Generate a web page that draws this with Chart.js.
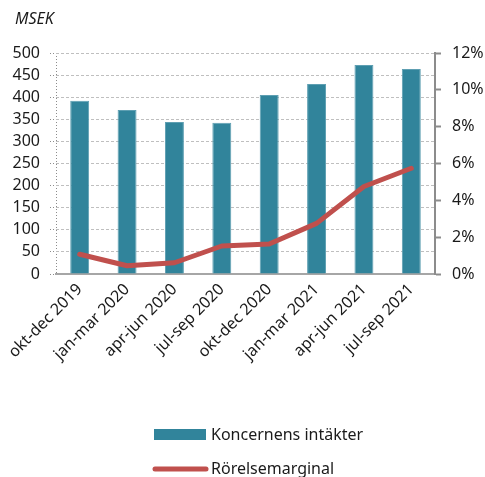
<!DOCTYPE html>
<html>
<head>
<meta charset="utf-8">
<script src="https://cdn.jsdelivr.net/npm/chart.js@4/dist/chart.umd.min.js"></script>
<style>
  body { margin: 0; background: #fff; }
  #wrap { width: 485px; height: 477px; }
</style>
</head>
<body>
<div id="wrap"><canvas id="chart" width="485" height="477"></canvas></div>
<script>
const quarters = ['okt-dec 2019', 'jan-mar 2020', 'apr-jun 2020', 'jul-sep 2020', 'okt-dec 2020', 'jan-mar 2021', 'apr-jun 2021', 'jul-sep 2021'];
const revenue = [392, 371, 344, 342, 405, 430, 473, 464];   // MSEK
const margin = [1.07, 0.45, 0.61, 1.52, 1.63, 2.75, 4.75, 5.74]; // %
const revenueTicks = [0, 50, 100, 150, 200, 250, 300, 350, 400, 450, 500];
const marginTicks = [0, 2, 4, 6, 8, 10, 12];

const teal = '#31849b';
const red = '#c0504d';
const font = 'Noto Sans';

// titel uppe till vänster + egen legend under diagrammet
const extras = {
    id: 'extras',
    afterDraw(c) {
        const ctx = c.ctx;
        ctx.save();
        ctx.fillStyle = '#1a1a1a';
        ctx.textBaseline = 'middle';
        ctx.font = 'italic 16px "' + font + '"';
        ctx.fillText('MSEK', 15, 19);

        ctx.font = '16px "' + font + '"';
        ctx.fillStyle = teal;
        ctx.fillRect(154, 429, 52, 11);
        ctx.fillStyle = '#1a1a1a';
        ctx.fillText(c.data.datasets[0].label, 211, 435);

        ctx.strokeStyle = red;
        ctx.lineWidth = 5;
        ctx.lineCap = 'round';
        ctx.beginPath();
        ctx.moveTo(155, 469);
        ctx.lineTo(206, 469);
        ctx.stroke();
        ctx.fillText(c.data.datasets[1].label, 211, 469);
        ctx.restore();
    }
};

new Chart(document.querySelector('#chart').getContext('2d'), {
    data: {
        labels: quarters,
        datasets: [
            {
                type: 'bar',
                label: 'Koncernens intäkter',
                data: revenue,
                backgroundColor: teal,
                borderColor: '#5e9fb2',
                borderWidth: { top: 1, left: 1, right: 1, bottom: 0 },
                barPercentage: 0.4,
                categoryPercentage: 1.0,
                yAxisID: 'y',
                order: 2
            },
            {
                type: 'line',
                label: 'Rörelsemarginal',
                data: margin,
                borderColor: red,
                borderWidth: 5,
                borderCapStyle: 'round',
                borderJoinStyle: 'round',
                pointRadius: 0,
                tension: 0,
                yAxisID: 'y1',
                order: 1
            }
        ]
    },
    options: {
        responsive: false,
        animation: false,
        layout: { padding: { top: 53, left: 0, right: 0, bottom: 0 } },
        plugins: {
            legend: { display: false },
            tooltip: { enabled: false }
        },
        scales: {
            x: {
                afterFit: s => { s.height = 203; },
                grid: {
                    offset: true,
                    drawTicks: false,
                    color: ctx => ctx.index === 0 ? '#8c8c8c' : 'rgba(0,0,0,0)',
                    lineWidth: 1
                },
                border: { color: '#a6a6a6', width: 2, dash: [1, 2] },
                ticks: {
                    minRotation: 45,
                    maxRotation: 45,
                    autoSkip: false,
                    padding: 6,
                    color: '#1a1a1a',
                    font: { family: font, size: 16 }
                }
            },
            y: {
                position: 'left',
                min: 0,
                max: 500,
                afterFit: s => { s.width = 56; },
                afterBuildTicks: s => { s.ticks = revenueTicks.map(v => ({ value: v })); },
                grid: {
                    color: '#bfbfbf',
                    tickColor: '#8c8c8c',
                    tickLength: 6,
                    tickBorderDash: [1, 2]
                },
                border: { display: false, dash: [3, 2] },
                ticks: {
                    autoSkip: false,
                    padding: 10,
                    color: '#1a1a1a',
                    font: { family: font, size: 16 }
                }
            },
            y1: {
                position: 'right',
                min: 0,
                max: 12,
                afterFit: s => { s.width = 50; },
                afterBuildTicks: s => { s.ticks = marginTicks.map(v => ({ value: v })); },
                grid: {
                    drawOnChartArea: false,
                    tickColor: '#8c8c8c',
                    tickLength: 6,
                    tickWidth: 2
                },
                border: { color: '#8c8c8c', width: 2 },
                ticks: {
                    autoSkip: false,
                    padding: 11,
                    color: '#1a1a1a',
                    font: { family: font, size: 16 },
                    callback: v => v + '%'
                }
            }
        }
    },
    plugins: [extras]
});
</script>
</body>
</html>
